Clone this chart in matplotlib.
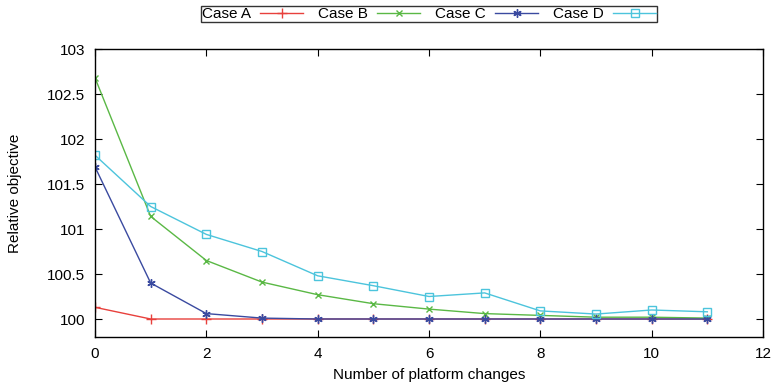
import matplotlib
matplotlib.use('Agg')
import matplotlib.pyplot as plt

plt.rcParams['font.family'] = ['Liberation Sans', 'DejaVu Sans']
plt.rcParams['font.size'] = 11

# Data
changes = list(range(12))
case_a = [100.13, 100.0, 100.0, 100.0, 100.0, 100.0, 100.0, 100.0, 100.0, 100.0, 100.0, 100.0]
case_b = [102.68, 101.14, 100.65, 100.41, 100.27, 100.17, 100.11, 100.06, 100.04, 100.02, 100.02, 100.01]
case_c = [101.69, 100.40, 100.06, 100.01, 100.0, 100.0, 100.0, 100.0, 100.0, 100.0, 100.0, 100.0]
case_d = [101.82, 101.25, 100.94, 100.75, 100.48, 100.37, 100.25, 100.29, 100.09, 100.055, 100.10, 100.08]

x_ticks = [0, 2, 4, 6, 8, 10, 12]
y_ticks = [100, 100.5, 101, 101.5, 102, 102.5, 103]
y_labels = ['100', '100.5', '101', '101.5', '102', '102.5', '103']

fig = plt.figure(figsize=(7.75, 3.83), dpi=100)
ax = fig.add_axes([95 / 775, 1 - 337 / 383, (763 - 95) / 775, (337 - 49) / 383])

ax.plot(changes, case_a, color='#e8403c', marker='+', markersize=6.5, lw=1, label='Case A')
ax.plot(changes, case_b, color='#5ab845', marker='x', markersize=5, lw=1, label='Case B')
ax.plot(changes, case_c, color='#3a4aa0', marker=(6, 2, 0), markersize=6, lw=1, label='Case C')
ax.plot(changes, case_d, color='#4cc4dc', marker='s', markersize=6, mfc='none', lw=1, label='Case D')

ax.set_xlim(0, 12)
ax.set_ylim(99.8, 103)
ax.set_xticks(x_ticks)
ax.set_yticks(y_ticks)
ax.set_yticklabels(y_labels)
ax.tick_params(direction='in', top=True, right=True, length=5, width=0.8, pad=7)
for s in ax.spines.values():
    s.set_linewidth(1)

ax.set_xlabel('Number of platform changes', labelpad=5)
ax.set_ylabel('Relative objective', labelpad=18)

leg = ax.legend(loc='center', bbox_to_anchor=(0.5, 1 + 35 / 288), ncol=4, markerfirst=False,
                frameon=True, fancybox=False, edgecolor='black', handlelength=2.8,
                columnspacing=1.0, borderpad=0.05, handletextpad=0.6, borderaxespad=0)
leg.get_frame().set_linewidth(1)

fig.savefig('out.png', dpi=100)
